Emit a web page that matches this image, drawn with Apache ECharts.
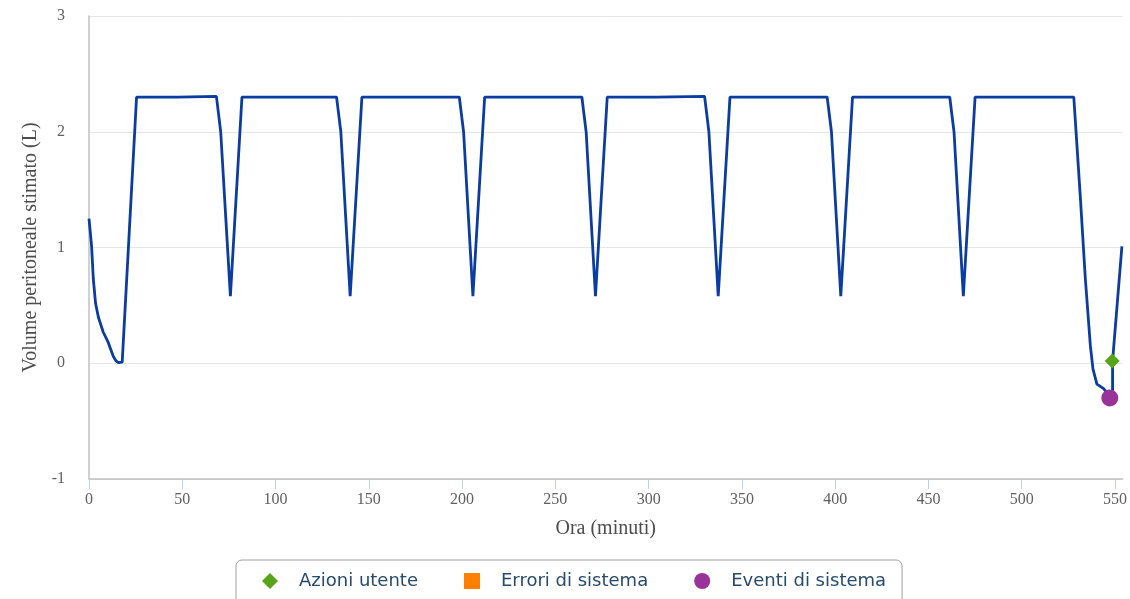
<!DOCTYPE html>
<html>
<head>
<meta charset="utf-8">
<script src="https://cdn.jsdelivr.net/npm/echarts@6/dist/echarts.min.js"></script>
<style>
  html, body { margin: 0; padding: 0; background: #fff; }
  #chart { width: 1130px; height: 599px; }
</style>
</head>
<body>
<div id="chart"></div>
<script>
// time (minutes) and estimated peritoneal volume (L)
const timeMin = [
  0, 1.4, 2.3, 3.5, 5, 7.6, 10.3, 13, 14.5, 15.7, 17.8, 25.5, 47.6, 47.7,
  68.3, 70.6, 75.8, 82.0,
  132.7, 135.0, 140.0, 146.3,
  198.5, 200.8, 205.8, 212.1,
  264.2, 266.5, 271.5, 277.8, 304, 304.1,
  330.0, 332.3, 337.3, 343.6,
  395.7, 398.0, 403.0, 409.3,
  461.4, 463.7, 468.7, 475.0,
  527.9, 531.4, 534.1, 536.8, 538.2, 540.3, 543.9, 546.5, 548.7, 548.7, 553.7
];
const volumeL = [
  1.25, 1.01, 0.73, 0.52, 0.40, 0.27, 0.18, 0.06, 0.02, 0.005, 0.01, 2.30, 2.30, 2.305,
  2.305, 2.0, 0.58, 2.30,
  2.30, 2.0, 0.58, 2.30,
  2.30, 2.0, 0.58, 2.30,
  2.30, 2.0, 0.58, 2.30, 2.30, 2.305,
  2.305, 2.0, 0.58, 2.30,
  2.30, 2.0, 0.58, 2.30,
  2.30, 2.0, 0.58, 2.30,
  2.30, 1.44, 0.73, 0.15, -0.05, -0.18, -0.22, -0.27, -0.30, 0.02, 1.01
];

const userActions = [[548.5, 0.02]];
const systemErrors = [];
const systemEvents = [[547.2, -0.30]];

const xTicks = [0, 50, 100, 150, 200, 250, 300, 350, 400, 450, 500, 550];

const lineData = timeMin.map((t, i) => [t, volumeL[i]]);

const chart = echarts.init(document.getElementById('chart'), null, { renderer: 'canvas' });

const option = {
  animation: false,
  backgroundColor: '#ffffff',
  grid: { left: 89, right: 5, top: 16, bottom: 120 },
  legend: {
    left: 236,
    top: 560,
    orient: 'horizontal',
    padding: [12, 16, 30, 26],
    itemGap: 46,
    itemWidth: 16,
    itemHeight: 16,
    borderColor: '#a0a0a0',
    borderWidth: 1,
    borderRadius: 6,
    textStyle: {
      fontFamily: 'DejaVu Sans',
      fontSize: 18,
      color: '#274b6d',
      padding: [0, 0, 0, 16]
    },
    data: [
      { name: 'Azioni utente', icon: 'diamond' },
      { name: 'Errori di sistema', icon: 'rect' },
      { name: 'Eventi di sistema', icon: 'circle' }
    ]
  },
  xAxis: {
    type: 'value',
    min: 0,
    max: 554,
    interval: 50,
    name: 'Ora (minuti)',
    nameLocation: 'middle',
    nameGap: 40,
    nameTextStyle: { fontFamily: 'Liberation Serif', fontSize: 20, color: '#4d4d4d' },
    axisLine: { show: true, onZero: false, lineStyle: { color: '#c0c0c0', width: 1.5 } },
    axisTick: { show: true, length: 10, customValues: xTicks, lineStyle: { color: '#c0d0e0' } },
    axisLabel: {
      customValues: xTicks,
      margin: 13,
      fontFamily: 'Liberation Serif',
      fontSize: 16,
      color: '#606060'
    },
    splitLine: { show: false }
  },
  yAxis: {
    type: 'value',
    min: -1,
    max: 3,
    interval: 1,
    name: 'Volume peritoneale stimato (L)',
    nameLocation: 'middle',
    nameGap: 47,
    nameTextStyle: { fontFamily: 'Liberation Serif', fontSize: 20, color: '#4d4d4d' },
    axisLine: { show: true, lineStyle: { color: '#c0c0c0', width: 1.5 } },
    axisTick: { show: false },
    axisLabel: {
      margin: 24,
      fontFamily: 'Liberation Serif',
      fontSize: 16,
      color: '#606060'
    },
    splitLine: { show: true, lineStyle: { color: '#e6e6e6', width: 1 } }
  },
  series: [
    {
      name: 'Volume',
      type: 'line',
      data: lineData,
      showSymbol: false,
      symbol: 'none',
      lineStyle: { color: '#0b3c9f', width: 2.8 },
      z: 2
    },
    {
      name: 'Azioni utente',
      type: 'scatter',
      data: userActions,
      symbol: 'diamond',
      symbolSize: 15,
      itemStyle: { color: '#58a418', opacity: 1 },
      z: 5
    },
    {
      name: 'Errori di sistema',
      type: 'scatter',
      data: systemErrors,
      symbol: 'rect',
      symbolSize: 14,
      itemStyle: { color: '#ff8000', opacity: 1 },
      z: 5
    },
    {
      name: 'Eventi di sistema',
      type: 'scatter',
      data: systemEvents,
      symbol: 'circle',
      symbolSize: 17,
      itemStyle: { color: '#993399', opacity: 1 },
      z: 4
    }
  ]
};

chart.setOption(option);
</script>
</body>
</html>
